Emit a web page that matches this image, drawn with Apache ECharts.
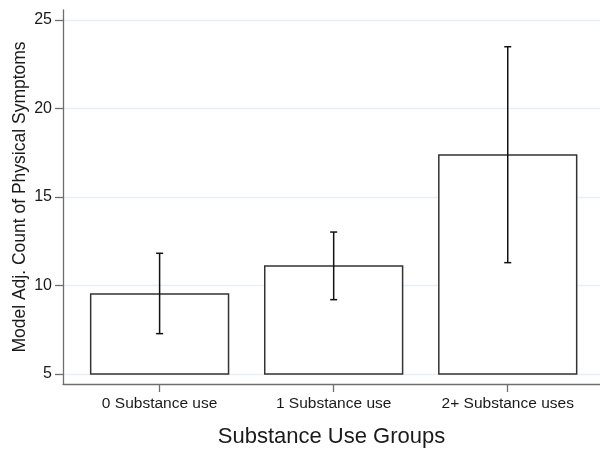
<!DOCTYPE html>
<html>
<head>
<meta charset="utf-8">
<script src="https://cdn.jsdelivr.net/npm/echarts@6/dist/echarts.min.js"></script>
<style>html,body{margin:0;padding:0;background:#fff}#c{width:600px;height:451px}</style>
</head>
<body>
<div id="c"></div>
<script>
const categories = ['0 Substance use', '1 Substance use', '2+ Substance uses'];
const means = [9.52, 11.10, 17.37];
const lowerCI = [7.28, 9.20, 11.29];
const upperCI = [11.82, 13.02, 23.49];
const yTicks = [5, 10, 15, 20, 25];
const barBase = 5;

const chart = echarts.init(document.getElementById('c'), null, {renderer: 'canvas'});
const font = 'Liberation Sans, Arial, sans-serif';
const barData = means.map((v, i) => [i, v]);
const errData = categories.map((c, i) => [i, lowerCI[i], upperCI[i]]);

chart.setOption({
  animation: false,
  backgroundColor: '#fff',
  grid: {left: 63, right: 0, top: 10, bottom: 67, containLabel: false, outerBoundsMode: 'none'},
  xAxis: {
    type: 'value', min: -0.555, max: 2.53,
    name: 'Substance Use Groups', nameLocation: 'middle', nameGap: 42,
    nameTextStyle: {fontFamily: font, fontSize: 22, color: '#1a1a1a'},
    axisLine: {show: true, onZero: false, lineStyle: {color: '#6e6e6e', width: 1.3}},
    axisTick: {show: true, length: 8, lineStyle: {color: '#6e6e6e', width: 1.3}, customValues: [0, 1, 2]},
    axisLabel: {show: true, customValues: [0, 1, 2], margin: 12, fontFamily: font, fontSize: 15.5, color: '#1a1a1a',
      formatter: v => categories[Math.round(v)]},
    splitLine: {show: false}
  },
  yAxis: {
    type: 'value', min: 4.435, max: 25.565,
    name: 'Model Adj. Count of Physical Symptoms', nameLocation: 'middle', nameGap: 34, nameMoveOverlap: false,
    nameTextStyle: {fontFamily: font, fontSize: 17.5, color: '#1a1a1a'},
    axisLine: {show: true, onZero: false, lineStyle: {color: '#6e6e6e', width: 1.3}},
    axisTick: {show: true, length: 8, lineStyle: {color: '#6e6e6e', width: 1.3}, customValues: yTicks},
    axisLabel: {show: true, customValues: yTicks, margin: 11, fontFamily: font, fontSize: 16, color: '#1a1a1a'},
    splitLine: {show: true, lineStyle: {color: '#e8eff4', width: 1.3}}
  },
  series: [
    {
      type: 'custom', z: 3, clip: true,
      data: barData,
      renderItem: function (params, api) {
        const x = api.value(0);
        const top = api.coord([x, api.value(1)]);
        const bot = api.coord([x, barBase]);
        const w = api.size([0.792, 0])[0];
        return {
          type: 'rect',
          shape: {x: top[0] - w / 2, y: top[1], width: w, height: bot[1] - top[1]},
          style: {fill: '#fff', stroke: '#333', lineWidth: 1.5}
        };
      }
    },
    {
      type: 'custom', z: 4, clip: true,
      data: errData,
      renderItem: function (params, api) {
        const x = api.value(0);
        const lo = api.coord([x, api.value(1)]);
        const hi = api.coord([x, api.value(2)]);
        const cap = 3.5;
        const st = {stroke: '#111', lineWidth: 1.5};
        return {
          type: 'group',
          children: [
            {type: 'line', shape: {x1: lo[0], y1: lo[1], x2: hi[0], y2: hi[1]}, style: st},
            {type: 'line', shape: {x1: lo[0] - cap, y1: lo[1], x2: lo[0] + cap, y2: lo[1]}, style: st},
            {type: 'line', shape: {x1: hi[0] - cap, y1: hi[1], x2: hi[0] + cap, y2: hi[1]}, style: st}
          ]
        };
      }
    }
  ]
});
</script>
</body>
</html>
